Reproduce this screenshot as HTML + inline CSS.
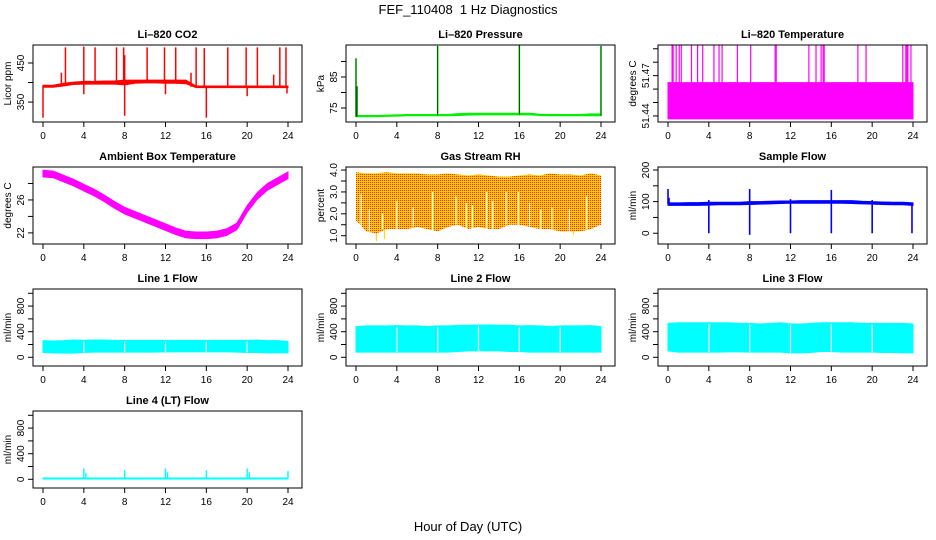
<!DOCTYPE html>
<html><head><meta charset="utf-8"><style>
html,body{margin:0;padding:0;background:#fff;}
svg{display:block;font-family:"Liberation Sans",sans-serif;}
</style></head><body>
<svg id="chart" width="936" height="540" viewBox="0 0 936 540">
<defs>
<pattern id="rhpat" width="2" height="2" patternUnits="userSpaceOnUse">
<rect width="2" height="2" fill="#ffcc00"/><rect width="1" height="1" fill="#ff2000"/>
</pattern>
</defs>
<text x="468" y="14" text-anchor="middle" font-size="13" style="white-space:pre">FEF_110408  1 Hz Diagnostics</text>
<text x="468" y="531" text-anchor="middle" font-size="13">Hour of Day (UTC)</text>
</svg>
<script>
const hours=[0,1,2,3,4,5,6,7,8,9,10,11,12,13,14,15,16,17,18,19,20,21,22,23,24];
const xTicks=[0,4,8,12,16,20,24];
// CO2
const co2Lower=[388,388,391,395,396,396,396,396,394,398,399,399,398,398,397,387,387,387,387,387,387,387,387,387,387];
const co2Upper=[393,393,398,401,403,403,404,404,406,406,406,406,406,406,406,391,391,391,391,391,391,391,391,391,391];
const co2Spikes=[[2.2,490],[4.0,492],[5.1,490],[7.2,490],[7.9,490],[10.2,490],[11.9,490],[13.0,490],[15.0,490],[15.8,488],[18.1,490],[19.9,490],[21.0,490],[23.2,490],[23.8,490],[1.8,425],[8.0,470],[0,310],[8.0,315],[16.0,310],[4.0,370],[20.0,365],[12.0,370],[23.9,372],[14.5,425],[22.6,420]];
// Pressure
const presLower=[72.2,72.2,72.2,72.3,72.4,72.5,72.5,72.5,72.5,72.5,72.6,72.7,72.8,72.8,72.8,72.8,72.8,72.8,72.6,72.5,72.5,72.5,72.5,72.5,72.5];
const presUpper=[72.6,72.6,72.6,72.7,72.8,72.9,72.9,72.9,72.9,72.9,73.2,73.3,73.3,73.3,73.3,73.3,73.3,73.3,73.0,72.9,72.9,72.9,72.9,73.1,73.1];
const presSpikes=[[0,91],[0.1,82],[8,95],[16,95.3],[24,95]];
// Li-820 temperature
const tempLower=[51.4378,51.4378,51.4378,51.4378,51.4378,51.4378,51.4378,51.4378,51.4378,51.4378,51.4378,51.4378,51.4378,51.4378,51.4378,51.4378,51.4378,51.4378,51.4378,51.4378,51.4378,51.4378,51.4378,51.4378,51.4378];
const tempUpper=[51.4648,51.4648,51.4648,51.4648,51.4648,51.4648,51.4648,51.4648,51.4648,51.4648,51.4648,51.4648,51.4648,51.4648,51.4648,51.4648,51.4648,51.4648,51.4648,51.4648,51.4648,51.4648,51.4648,51.4648,51.4648];
const tempSpikeHours=[0.4,0.5,0.8,1.1,1.3,2.3,2.9,3.4,4.5,5.0,5.3,6.8,8.1,10.5,10.6,13.8,14.5,15.0,15.2,15.3,18.6,19.4,23.0,23.3,23.4,23.5,23.8];
const tempSpikeTop=51.493;
// Ambient box temperature
const ambMid=[29.2,29.1,28.6,28.1,27.5,26.9,26.2,25.4,24.7,24.2,23.7,23.2,22.7,22.2,21.8,21.7,21.7,21.8,22.1,22.8,24.9,26.5,27.6,28.3,29.0];
const ambHalfWidth=0.4;
// Gas stream RH
const rhUpper=[3.9,3.85,3.85,3.9,3.85,3.85,3.85,3.8,3.8,3.85,3.8,3.75,3.8,3.75,3.7,3.7,3.75,3.8,3.75,3.85,3.8,3.8,3.75,3.85,3.75];
const rhLower=[1.7,1.2,1.1,1.3,1.3,1.3,1.4,1.3,1.2,1.4,1.5,1.3,1.4,1.3,1.3,1.5,1.5,1.4,1.3,1.3,1.2,1.2,1.2,1.3,1.5];
const rhGaps=[[0.5,2.9],[1.3,2.2],[2.6,2.0],[4.0,2.6],[5.6,2.3],[7.5,3.0],[9.8,2.8],[10.8,2.5],[11.4,2.4],[12.8,3.0],[13.4,2.6],[14.7,3.0],[15.9,3.0],[17.0,2.5],[18.1,2.2],[19.2,2.3],[20.9,2.2],[22.6,2.8]];
const rhDips=[[2.0,0.75],[2.8,0.85],[21.3,1.05]];
// Sample flow
const sfLower=[88,88,88,88,89,90,90,90,91,92,93,94,95,95,95,95,95,95,94,93,92,91,90,90,88];
const sfUpper=[96,96,97,97,98,98,98,98,100,100,101,102,102,103,103,103,103,103,103,101,100,99,98,98,96];
const sfSpikes=[[0,140],[0.1,112],[8,140],[16,137],[12,108],[20,105],[4,105],[4,0],[8,-5],[12,0],[16,0],[20,0],[23.9,0]];
// Line flows
const l1Lower=[75,70,65,65,75,80,80,80,80,80,80,80,85,85,85,85,85,85,85,80,75,75,70,70,70];
const l1Upper=[260,255,260,270,265,270,270,265,265,265,265,265,265,265,265,265,265,265,265,265,265,270,260,260,250];
const l2Lower=[80,80,80,80,80,80,80,80,80,80,90,100,100,100,100,90,90,80,80,80,80,80,80,80,80];
const l2Upper=[480,490,490,490,495,490,490,480,490,490,500,500,505,505,500,500,490,495,490,480,490,490,490,495,480];
const l3Lower=[100,80,80,80,80,80,85,85,80,80,80,80,70,70,75,90,90,80,80,80,80,75,75,70,70];
const l3Upper=[530,540,540,540,540,540,540,530,530,520,530,540,520,520,530,540,540,540,540,530,530,530,530,530,520];
const flowGaps=[4,8,12,16,20];
const l4Lower=[5,5,5,5,5,5,5,5,5,5,5,5,5,5,5,5,5,5,5,5,5,5,5,5,5];
const l4Upper=[20,20,20,20,20,20,20,20,20,20,20,20,20,20,20,20,20,20,20,20,20,20,20,20,20];
const l4Spikes=[[4,170],[4.2,100],[8,140],[12,170],[12.2,110],[16,140],[20,170],[20.2,110],[24,130]];

const NS='http://www.w3.org/2000/svg';
const svg=document.getElementById('chart');
function el(tag,attrs,parent){const e=document.createElementNS(NS,tag);for(const k in attrs)e.setAttribute(k,attrs[k]);(parent||svg).appendChild(e);return e;}
const colX=[33,346,658], rowY=[45,167,289,411], W=269, H=77;

function makePanel(cfg){
  const L=colX[cfg.col],T=rowY[cfg.row],B=T+H;
  const g=el('g',{});
  
  
  const x=h=>L+10+h*(245/24);
  const y=v=>B-(v-cfg.ymin)/(cfg.ymax-cfg.ymin)*H;
  const t=el('text',{x:L+W/2,y:T-7,'text-anchor':'middle','font-size':11,'font-weight':'bold'},g);
  t.textContent=cfg.title;
  
  
  const data=el('g',{},g);
  
  
  cfg.draw(data,x,y);
  const box=el('rect',{x:L,y:T,width:W,height:H,fill:'none',stroke:'#000','stroke-width':1},g);
  
  
  const xa=el('g',{},g);
  
  
  xTicks.forEach(h=>{
    el('line',{x1:x(h),x2:x(h),y1:B,y2:B+5,stroke:'#000'},xa);
    const tx=el('text',{x:x(h),y:B+17,'text-anchor':'middle','font-size':10},xa);tx.textContent=h;
  });
  const ya=el('g',{},g);
  
  
  el('line',{x1:L,x2:L,y1:y(cfg.yticks[0]),y2:y(cfg.yticks[cfg.yticks.length-1]),stroke:'#000'},ya);
  cfg.yticks.forEach((v,i)=>{
    el('line',{x1:L-5,x2:L,y1:y(v),y2:y(v),stroke:'#000'},ya);
    if(cfg.ylabels[i]){const ty=el('text',{x:0,y:0,'text-anchor':'middle','font-size':10,transform:`translate(${L-9},${y(v)}) rotate(-90)`},ya);ty.textContent=cfg.ylabels[i];}
  });
  const yl=el('text',{x:0,y:0,'text-anchor':'middle','font-size':10,transform:`translate(${L-22},${T+H/2}) rotate(-90)`},g);
  yl.textContent=cfg.ylab;
  
  
}
function band(g,x,y,lo,hi,fill){
  let pts=hours.map((h,i)=>x(h)+','+y(hi[i]));
  for(let i=hours.length-1;i>=0;i--)pts.push(x(hours[i])+','+y(lo[i]));
  const p=el('polygon',{points:pts.join(' '),fill:fill,stroke:fill==='url(#rhpat)'?'none':fill,'stroke-width':1},g);
  
  
}
function spikes(g,x,y,list,base,color,w){
  list.forEach(s=>{const i=Math.min(24,Math.round(s[0]));const b=base(i);
    const l=el('line',{x1:x(s[0]),x2:x(s[0]),y1:y(b),y2:y(s[1]),stroke:color,'stroke-width':w||1.3},g);
    
    });
}
const yt=(a,b,s)=>{const r=[];for(let v=a;v<=b+1e-9;v+=s)r.push(+v.toFixed(4));return r;};

makePanel({name:'panel-co2',title:'Li\u2013820 CO2',col:0,row:0,ymin:299,ymax:496,yticks:[350,400,450],ylabels:['350','','450'],ylab:'Licor ppm',
 draw:(g,x,y)=>{band(g,x,y,co2Lower,co2Upper,'#ff0000');spikes(g,x,y,co2Spikes,i=>(co2Lower[i]+co2Upper[i])/2,'#ff0000',1.5);}});
makePanel({name:'panel-pressure',title:'Li\u2013820 Pressure',col:1,row:0,ymin:70.5,ymax:95.3,yticks:[75,80,85,90],ylabels:['75','','85',''],ylab:'kPa',
 draw:(g,x,y)=>{band(g,x,y,presLower,presUpper,'#00ee00');spikes(g,x,y,presSpikes,i=>presLower[i],'#00dd00',1.6);spikes(g,x,y,presSpikes,i=>presLower[i],'#000',0.6);}});
makePanel({name:'panel-li820-temperature',title:'Li\u2013820 Temperature',col:2,row:0,ymin:51.4355,ymax:51.4928,yticks:yt(51.44,51.49,0.01),ylabels:['51.44','','','51.47','',''],ylab:'degrees C',
 draw:(g,x,y)=>{band(g,x,y,tempLower,tempUpper,'#ff00ff');spikes(g,x,y,tempSpikeHours.map(h=>[h,tempSpikeTop]),i=>tempUpper[i],'#ff00ff',1.2);}});
makePanel({name:'panel-ambient-temperature',title:'Ambient Box Temperature',col:0,row:1,ymin:20.65,ymax:30.0,yticks:[22,24,26,28],ylabels:['22','','26',''],ylab:'degrees C',
 draw:(g,x,y)=>{band(g,x,y,ambMid.map(v=>v-ambHalfWidth),ambMid.map(v=>v+ambHalfWidth),'#ff00ff');}});
makePanel({name:'panel-gas-rh',title:'Gas Stream RH',col:1,row:1,ymin:0.62,ymax:4.14,yticks:yt(1,4,0.5),ylabels:['1.0','','2.0','','3.0','','4.0'],ylab:'percent',
 draw:(g,x,y)=>{band(g,x,y,rhLower,rhUpper,'url(#rhpat)');
  rhGaps.forEach(s=>{const i=Math.round(s[0]);const l=el('line',{x1:x(s[0]),x2:x(s[0]),y1:y(rhLower[i]),y2:y(s[1]),stroke:'#fff','stroke-width':1.2},g);});
  spikes(g,x,y,rhDips,i=>rhLower[i],'#ffdd00',1.2);}});
makePanel({name:'panel-sample-flow',title:'Sample Flow',col:2,row:1,ymin:-34,ymax:209.5,yticks:[0,50,100,150,200],ylabels:['0','','100','','200'],ylab:'ml/min',
 draw:(g,x,y)=>{band(g,x,y,sfLower,sfUpper,'#0000ff');spikes(g,x,y,sfSpikes,i=>(sfLower[i]+sfUpper[i])/2,'#0000ff',1.6);}});
const flowTicks=[0,200,400,600,800,1000],flowLabels=['0','','400','','800',''];
function flowPanel(name,title,col,row,lo,hi,gaps,sp){
 makePanel({name,title,col,row,ymin:-136,ymax:1067,yticks:flowTicks,ylabels:flowLabels,ylab:'ml/min',
  draw:(g,x,y)=>{band(g,x,y,lo,hi,'#00ffff');
   if(gaps)gaps.forEach(h=>{const l=el('line',{x1:x(h),x2:x(h),y1:y(lo[h]),y2:y(hi[h]-20),stroke:'#fff','stroke-width':1.2},g);});
   if(sp)spikes(g,x,y,sp,i=>hi[i],'#00ffff',1.4);}});
}
flowPanel('panel-line1-flow','Line 1 Flow',0,2,l1Lower,l1Upper,flowGaps,null);
flowPanel('panel-line2-flow','Line 2 Flow',1,2,l2Lower,l2Upper,flowGaps,null);
flowPanel('panel-line3-flow','Line 3 Flow',2,2,l3Lower,l3Upper,flowGaps,null);
flowPanel('panel-line4-flow','Line 4 (LT) Flow',0,3,l4Lower,l4Upper,null,l4Spikes);
</script>
</body></html>
